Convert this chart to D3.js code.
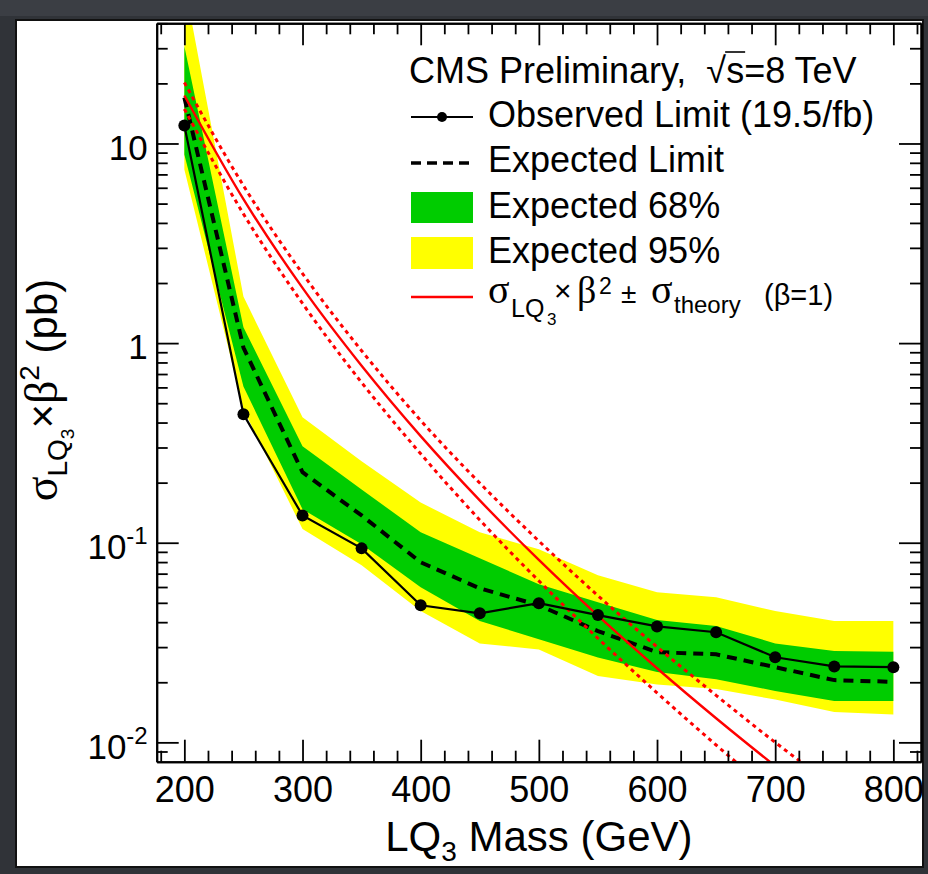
<!DOCTYPE html>
<html>
<head>
<meta charset="utf-8">
<script src="https://cdn.jsdelivr.net/npm/d3@7"></script>
<style>
  html, body { margin: 0; padding: 0; background: #303338; }
  svg { display: block; }
  text { font-family: "Liberation Sans", Arial, Helvetica, sans-serif; }
  .serif { font-family: "Liberation Serif", "DejaVu Serif", serif; }
</style>
</head>
<body>
<svg id="chart" width="928" height="874"></svg>
<script>
// LQ3 pair-production limits, sqrt(s) = 8 TeV
const masses       = [200, 250, 300, 350, 400, 450, 500, 550, 600, 650, 700, 750, 800];
const observed     = [12.3, 0.44, 0.137, 0.0937, 0.0486, 0.0443, 0.0498, 0.0434, 0.0381, 0.0356, 0.0267, 0.0240, 0.0238];
const expected     = [17.0, 0.95, 0.2255, 0.137, 0.0798, 0.0591, 0.0486, 0.0361, 0.0283, 0.0276, 0.0238, 0.0205, 0.0201];
const band68Upper  = [30.7, 1.20, 0.304, 0.185, 0.1127, 0.0836, 0.0619, 0.0503, 0.0410, 0.0383, 0.0313, 0.0287, 0.0284];
const band68Lower  = [8.8, 0.607, 0.147, 0.0982, 0.0598, 0.0406, 0.0328, 0.0266, 0.0225, 0.0207, 0.0181, 0.0161, 0.0161];
const band95Upper  = [64, 1.71, 0.425, 0.256, 0.159, 0.1127, 0.0927, 0.0687, 0.0565, 0.0533, 0.0455, 0.0406, 0.0406];
const band95Lower  = [7.4, 0.466, 0.117, 0.0771, 0.0455, 0.0313, 0.0292, 0.0215, 0.0195, 0.0185, 0.0164, 0.0142, 0.0138];
const theory       = [17.4, 5.26, 1.89, 0.77, 0.342, 0.163, 0.082, 0.0431, 0.0235, 0.0132, 0.00761, 0.00448, 0.00269];
const theoryUp     = [20.2, 6.15, 2.23, 0.916, 0.410, 0.199, 0.102, 0.0543, 0.0301, 0.0172, 0.0100, 0.0060, 0.00366];
const theoryDown   = [14.9, 4.44, 1.58, 0.635, 0.279, 0.130, 0.0644, 0.0332, 0.0177, 0.0097, 0.00544, 0.00311, 0.00182];

// axis ranges and ticks
const xDomain     = [176.6, 823.4];
const yDomain     = [0.008, 40];
const xMajorTicks = [200, 300, 400, 500, 600, 700, 800];
const xMinorTicks = [180, 220, 240, 260, 280, 320, 340, 360, 380, 420, 440, 460, 480, 520, 540, 560, 580, 620, 640, 660, 680, 720, 740, 760, 780, 820];
const yMajorTicks = [0.01, 0.1, 1, 10];
const yTickBase   = ["10", "10", "1", "10"];
const yTickExp    = ["-2", "-1", "", ""];
const yMinorTicks = [0.009, 0.02, 0.03, 0.04, 0.05, 0.06, 0.07, 0.08, 0.09,
                     0.2, 0.3, 0.4, 0.5, 0.6, 0.7, 0.8, 0.9,
                     2, 3, 4, 5, 6, 7, 8, 9, 20, 30, 40];

const svg = d3.select("#chart");
const plot = { left: 156.7, right: 921, top: 23.3, bottom: 761.7 };

// page panel
svg.append("rect").attr("x", 0).attr("y", 0).attr("width", 928).attr("height", 874).attr("fill", "#303338");
svg.append("rect").attr("x", 0).attr("y", 0).attr("width", 928).attr("height", 16).attr("fill", "#3b3e44");
svg.append("rect").attr("x", 16).attr("y", 20).attr("width", 907).attr("height", 847)
  .attr("fill", "#ffffff").attr("stroke", "#111").attr("stroke-width", 2);

const x = d3.scaleLinear().domain(xDomain).range([plot.left, plot.right]);
const y = d3.scaleLog().domain(yDomain).range([plot.bottom, plot.top]);

svg.append("clipPath").attr("id", "plotClip").append("rect")
  .attr("x", plot.left).attr("y", plot.top)
  .attr("width", plot.right - plot.left).attr("height", plot.bottom - plot.top);

const rows = masses.map((m, i) => ({
  m, obs: observed[i], exp: expected[i],
  lo68: band68Lower[i], hi68: band68Upper[i],
  lo95: band95Lower[i], hi95: band95Upper[i],
  th: theory[i], thUp: theoryUp[i], thDn: theoryDown[i]
}));

const data = svg.append("g").attr("clip-path", "url(#plotClip)");

const area = (lo, hi) => d3.area().x(d => x(d.m)).y0(d => y(d[lo])).y1(d => y(d[hi]));
data.append("path").datum(rows).attr("d", area("lo95", "hi95")).attr("fill", "#ffff00");
data.append("path").datum(rows).attr("d", area("lo68", "hi68")).attr("fill", "#00cc00");

const line = (key, curve) => d3.line().x(d => x(d.m)).y(d => y(d[key])).curve(curve || d3.curveLinear);

data.append("path").datum(rows).attr("d", line("exp"))
  .attr("fill", "none").attr("stroke", "#000").attr("stroke-width", 4).attr("stroke-dasharray", "10,7");

data.append("path").datum(rows).attr("d", line("thUp", d3.curveMonotoneX))
  .attr("fill", "none").attr("stroke", "#ff0000").attr("stroke-width", 3).attr("stroke-dasharray", "4,4");
data.append("path").datum(rows).attr("d", line("thDn", d3.curveMonotoneX))
  .attr("fill", "none").attr("stroke", "#ff0000").attr("stroke-width", 3).attr("stroke-dasharray", "4,4");
data.append("path").datum(rows).attr("d", line("th", d3.curveMonotoneX))
  .attr("fill", "none").attr("stroke", "#ff0000").attr("stroke-width", 2.4);

data.append("path").datum(rows).attr("d", line("obs"))
  .attr("fill", "none").attr("stroke", "#000").attr("stroke-width", 2.2);
data.selectAll("circle.obs").data(rows).join("circle").attr("class", "obs")
  .attr("cx", d => x(d.m)).attr("cy", d => y(d.obs)).attr("r", 6).attr("fill", "#000");

// axes: ticks point inwards on all four sides
function styleAxis(g) {
  g.attr("font-family", null).attr("font-size", null);
  g.selectAll(".domain").attr("stroke", "#000").attr("stroke-width", 2);
  g.selectAll(".tick line").attr("stroke", "#000").attr("stroke-width", 1.8);
  g.selectAll(".tick text").attr("fill", "#000").style("font-size", "36px")
    .style("font-family", '"Liberation Sans", Arial, sans-serif');
}
const axes = svg.append("g");

axes.append("g").attr("transform", `translate(0,${plot.bottom})`)
  .call(d3.axisBottom(x).tickValues(xMinorTicks).tickSize(-11).tickSizeOuter(0).tickFormat(""))
  .call(styleAxis);
axes.append("g").attr("transform", `translate(0,${plot.bottom})`)
  .call(d3.axisBottom(x).tickValues(xMajorTicks).tickSize(-22).tickSizeOuter(0).tickPadding(15).tickFormat(d3.format("d")))
  .call(styleAxis);
axes.append("g").attr("transform", `translate(0,${plot.top})`)
  .call(d3.axisTop(x).tickValues(xMinorTicks).tickSize(-11).tickSizeOuter(0).tickFormat(""))
  .call(styleAxis);
axes.append("g").attr("transform", `translate(0,${plot.top})`)
  .call(d3.axisTop(x).tickValues(xMajorTicks).tickSize(-22).tickSizeOuter(0).tickFormat(""))
  .call(styleAxis);

axes.append("g").attr("transform", `translate(${plot.left},0)`)
  .call(d3.axisLeft(y).tickValues(yMinorTicks).tickSize(-11).tickSizeOuter(0).tickFormat(""))
  .call(styleAxis);
const yLeft = axes.append("g").attr("transform", `translate(${plot.left},0)`)
  .call(d3.axisLeft(y).tickValues(yMajorTicks).tickSize(-22).tickSizeOuter(0).tickPadding(9)
    .tickFormat((d, i) => yTickBase[i]))
  .call(styleAxis);
yLeft.selectAll(".tick text").each(function(d, i) {
  const t = d3.select(this);
  t.attr("dy", "0.45em").style("font-size", "35px");
  if (yTickExp[i]) {
    t.append("tspan").attr("dy", "-0.62em").style("font-size", "24px").text(yTickExp[i]);
  }
});
axes.append("g").attr("transform", `translate(${plot.right},0)`)
  .call(d3.axisRight(y).tickValues(yMinorTicks).tickSize(-11).tickSizeOuter(0).tickFormat(""))
  .call(styleAxis);
axes.append("g").attr("transform", `translate(${plot.right},0)`)
  .call(d3.axisRight(y).tickValues(yMajorTicks).tickSize(-22).tickSizeOuter(0).tickFormat(""))
  .call(styleAxis);

// axis titles
const xt = svg.append("text").attr("x", (plot.left + plot.right) / 2).attr("y", 851)
  .attr("text-anchor", "middle").style("font-size", "42px");
xt.append("tspan").text("LQ");
xt.append("tspan").attr("dy", 10).style("font-size", "28px").text("3");
xt.append("tspan").attr("dy", -10).text(" Mass (GeV)");

const yt = svg.append("text").attr("transform", "translate(57,390) rotate(-90)")
  .attr("text-anchor", "middle").style("font-size", "42px");
yt.append("tspan").attr("class", "serif").style("font-size", "46px").text("σ");
yt.append("tspan").attr("dy", 10).style("font-size", "28px").text("LQ");
yt.append("tspan").attr("dy", 7).style("font-size", "19px").text("3");
yt.append("tspan").attr("dy", -17).text("×");
yt.append("tspan").attr("class", "serif").style("font-size", "46px").text("β");
yt.append("tspan").attr("dy", -18).style("font-size", "28px").text("2");
yt.append("tspan").attr("dy", 18).text(" (pb)");

// legend
const lg = svg.append("g");
const lx0 = 411, lx1 = 473, tx = 488;

const head = lg.append("text").attr("x", 409).attr("y", 83).style("font-size", "36px")
  .style("white-space", "pre").attr("xml:space", "preserve")
  .text("CMS Preliminary,  √s=8 TeV");
{
  // overbar of the radical, spanning the "s"
  const node = head.node();
  const n = node.getNumberOfChars();
  let iR = -1;
  for (let k = 0; k < n; k++) {
    if (node.textContent[k] === "√") { iR = k; break; }
  }
  if (iR >= 0) {
    const rBox = node.getExtentOfChar(iR), sBox = node.getExtentOfChar(iR + 1);
    const top = rBox.y + 2;
    lg.append("line").attr("x1", rBox.x + rBox.width - 1).attr("x2", sBox.x + sBox.width + 1)
      .attr("y1", top).attr("y2", top).attr("stroke", "#000").attr("stroke-width", 1.6);
  }
}

lg.append("line").attr("x1", lx0).attr("x2", lx1).attr("y1", 117).attr("y2", 117)
  .attr("stroke", "#000").attr("stroke-width", 2.2);
lg.append("circle").attr("cx", (lx0 + lx1) / 2).attr("cy", 117).attr("r", 5).attr("fill", "#000");
lg.append("text").attr("x", tx).attr("y", 127).style("font-size", "36px").text("Observed Limit (19.5/fb)");

lg.append("line").attr("x1", lx0).attr("x2", lx1 - 3).attr("y1", 163).attr("y2", 163)
  .attr("stroke", "#000").attr("stroke-width", 3.4).attr("stroke-dasharray", "10,6");
lg.append("text").attr("x", tx).attr("y", 172).style("font-size", "36px").text("Expected Limit");

lg.append("rect").attr("x", lx0).attr("y", 192).attr("width", lx1 - lx0).attr("height", 31).attr("fill", "#00cc00");
lg.append("text").attr("x", tx).attr("y", 218).style("font-size", "36px").text("Expected 68%");

lg.append("rect").attr("x", lx0).attr("y", 237).attr("width", lx1 - lx0).attr("height", 32).attr("fill", "#ffff00");
lg.append("text").attr("x", tx).attr("y", 263).style("font-size", "36px").text("Expected 95%");

lg.append("line").attr("x1", lx0).attr("x2", lx1).attr("y1", 297).attr("y2", 297)
  .attr("stroke", "#ff0000").attr("stroke-width", 2.4);
const th = lg.append("text").style("font-size", "36px");
th.append("tspan").attr("class", "serif").attr("x", 488).attr("y", 303).style("font-size", "40px").text("σ");
th.append("tspan").attr("x", 511).attr("y", 317).style("font-size", "25px").text("LQ");
th.append("tspan").attr("x", 547).attr("y", 325).style("font-size", "17px").text("3");
th.append("tspan").attr("x", 554).attr("y", 301).style("font-size", "30px").text("×");
th.append("tspan").attr("class", "serif").attr("x", 577).attr("y", 303).style("font-size", "38px").text("β");
th.append("tspan").attr("x", 599).attr("y", 294).style("font-size", "23px").text("2");
th.append("tspan").attr("x", 621).attr("y", 303).style("font-size", "28px").text("±");
th.append("tspan").attr("class", "serif").attr("x", 651).attr("y", 303).style("font-size", "40px").text("σ");
th.append("tspan").attr("x", 674).attr("y", 313).style("font-size", "24px").text("theory");
th.append("tspan").attr("x", 764).attr("y", 305).style("font-size", "29px").text("(β=1)");
</script>
</body>
</html>
